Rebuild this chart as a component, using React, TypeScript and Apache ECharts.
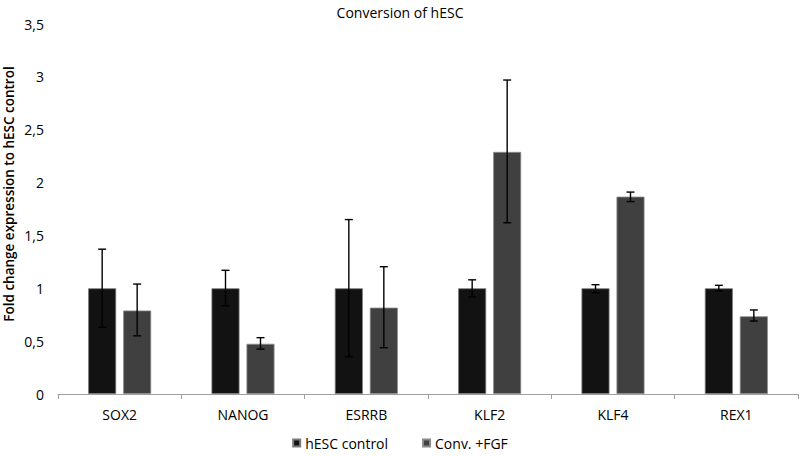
import React, { useEffect, useRef } from "react";
import * as echarts from "echarts";

const categories = ["SOX2", "NANOG", "ESRRB", "KLF2", "KLF4", "REX1"];
const controlValues = [1, 1, 1, 1, 1, 1];
const controlLow = [0.63, 0.835, 0.353, 0.918, 0.958, 0.975];
const controlHigh = [1.37, 1.17, 1.65, 1.08, 1.034, 1.028];
const fgfValues = [0.79, 0.475, 0.817, 2.29, 1.867, 0.735];
const fgfLow = [0.55, 0.425, 0.438, 1.62, 1.82, 0.69];
const fgfHigh = [1.04, 0.533, 1.204, 2.97, 1.91, 0.795];
const yTicks = [0, 0.5, 1, 1.5, 2, 2.5, 3, 3.5];
const yAxisTitle = "Fold change expression to hESC control";

const FONT = "Open Sans";
const BAR_W = 28;
const GAP = 7;

function errorSeries(name: string, low: number[], high: number[], side: number) {
  return {
    type: "custom",
    name: name + " err",
    z: 10,
    silent: true,
    data: categories.map((_, i) => [i, low[i], high[i]]),
    renderItem: (params: any, api: any) => {
      const i = api.value(0);
      const lo = api.coord([i, api.value(1)]);
      const hi = api.coord([i, api.value(2)]);
      const x = lo[0] + side * (BAR_W + GAP) / 2;
      const cap = 4;
      const style = { stroke: "#000", lineWidth: 1.4 };
      return {
        type: "group",
        children: [
          { type: "line", shape: { x1: x, y1: lo[1], x2: x, y2: hi[1] }, style },
          { type: "line", shape: { x1: x - cap, y1: hi[1], x2: x + cap, y2: hi[1] }, style },
          { type: "line", shape: { x1: x - cap, y1: lo[1], x2: x + cap, y2: lo[1] }, style },
        ],
      };
    },
  };
}

export default function App() {
  const ref = useRef<HTMLDivElement>(null);
  useEffect(() => {
    document.body.style.margin = "0";
    const chart = echarts.init(ref.current!, null, { renderer: "svg" });
    chart.setOption({
      animation: false,
      backgroundColor: "#fff",
      textStyle: { fontFamily: FONT },
      title: {
        text: "Conversion of hESC",
        left: "center",
        top: 0,
        textStyle: { fontFamily: FONT, fontSize: 14, fontWeight: "normal", color: "#000" },
      },
      legend: {
        bottom: 1,
        left: "center",
        itemWidth: 7,
        itemHeight: 7,
        itemGap: 34,
        icon: "rect",
        data: ["hESC control", "Conv. +FGF"],
        textStyle: { fontFamily: FONT, fontSize: 14, color: "#000" },
      },
      graphic: [
        {
          type: "text",
          x: 9,
          y: 194,
          rotation: Math.PI / 2,
          style: {
            text: yAxisTitle,
            fontFamily: FONT,
            fontSize: 13.5,
            fontWeight: 600,
            fill: "#000",
            align: "center",
            verticalAlign: "middle",
          },
        },
      ],
      grid: { left: 58, right: 2, top: 24, bottom: 62 },
      xAxis: {
        type: "category",
        data: categories,
        axisLine: { lineStyle: { color: "#a0a0a0", width: 1 } },
        axisTick: { show: true, length: 5, lineStyle: { color: "#a0a0a0" } },
        axisLabel: { fontFamily: FONT, fontSize: 14, color: "#000", margin: 13 },
      },
      yAxis: {
        type: "value",
        min: 0,
        max: 3.5,
        interval: 0.5,
        splitLine: { show: false },
        axisLine: { show: false },
        axisTick: { show: false },
        axisLabel: {
          fontFamily: FONT,
          fontSize: 14,
          color: "#000",
          margin: 14,
          formatter: (v: number) => (yTicks.includes(v) ? String(v).replace(".", ",") : ""),
        },
      },
      series: [
        {
          name: "hESC control",
          type: "bar",
          data: controlValues,
          barWidth: BAR_W,
          barGap: (GAP / BAR_W) * 100 + "%",
          itemStyle: { color: "#121212", borderColor: "#7a7a7a", borderWidth: 0.8 },
        },
        {
          name: "Conv. +FGF",
          type: "bar",
          data: fgfValues,
          barWidth: BAR_W,
          itemStyle: { color: "#404040", borderColor: "#8a8a8a", borderWidth: 0.8 },
        },
        errorSeries("hESC control", controlLow, controlHigh, -1),
        errorSeries("Conv. +FGF", fgfLow, fgfHigh, 1),
      ],
    });
    return () => chart.dispose();
  }, []);
  return <div ref={ref} style={{ width: 800, height: 456 }} />;
}
